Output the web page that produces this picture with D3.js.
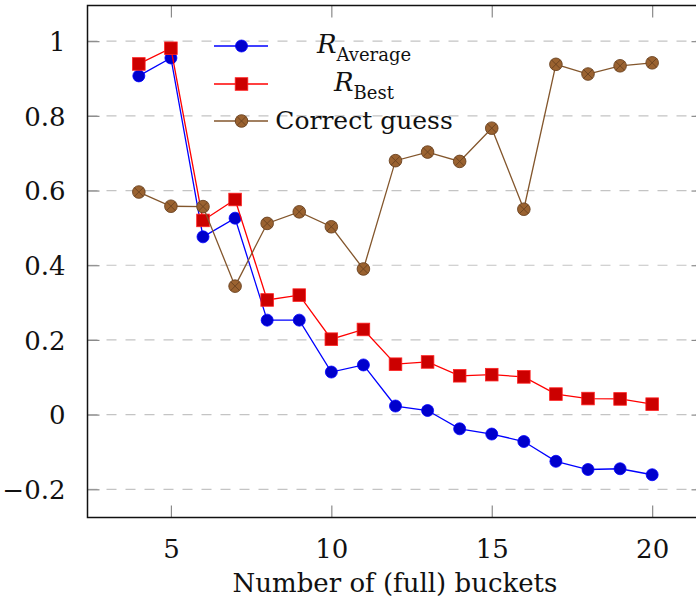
<!DOCTYPE html>
<html>
<head>
<meta charset="utf-8">
<script src="https://cdn.jsdelivr.net/npm/d3@7"></script>
<style>
  html, body { margin: 0; padding: 0; background: #fff; }
  svg { display: block; }
  text { font-family: "DejaVu Serif", serif; fill: #111; }
</style>
</head>
<body>
<svg id="chart" width="696" height="601"></svg>
<script>
// Bucket counts on the x axis
const buckets = [4, 5, 6, 7, 8, 9, 10, 11, 12, 13, 14, 15, 16, 17, 18, 19, 20];

// Series values, one per bucket count
const rAverage = [0.907, 0.955, 0.476, 0.526, 0.253, 0.253, 0.114, 0.133, 0.023, 0.011, -0.038, -0.052, -0.072, -0.125, -0.147, -0.145, -0.161];
const rBest    = [0.939, 0.981, 0.520, 0.576, 0.307, 0.320, 0.202, 0.228, 0.135, 0.141, 0.104, 0.107, 0.101, 0.055, 0.043, 0.042, 0.028];
const correctGuess = [0.596, 0.558, 0.557, 0.344, 0.512, 0.543, 0.503, 0.390, 0.680, 0.703, 0.678, 0.767, 0.550, 0.938, 0.912, 0.934, 0.942];

// Tick values
const xTicks = [5, 10, 15, 20];
const yTicks = [-0.2, 0, 0.2, 0.4, 0.6, 0.8, 1];

const xLabel = "Number of (full) buckets";

const svg = d3.select("#chart");
const plotLeft = 87.5, plotRight = 703.5, plotTop = 5.5, plotBottom = 517.5;

const x = d3.scaleLinear().domain([2.4, 21.6]).range([plotLeft, plotRight]);
const y = d3.scaleLinear().domain([-0.2755, 1.0955]).range([plotBottom, plotTop]);

const fmt = v => v < 0 ? "\u2212" + Math.abs(v) : String(v);

// Dashed horizontal grid
svg.append("g")
  .selectAll("line")
  .data(yTicks)
  .join("line")
  .attr("x1", plotLeft).attr("x2", plotRight)
  .attr("y1", d => y(d)).attr("y2", d => y(d))
  .attr("stroke", "#c4c4c4")
  .attr("stroke-width", 1.2)
  .attr("stroke-dasharray", "10 9");

// Axes with inward ticks
const tickLen = 12;
const yAxis = svg.append("g").attr("transform", `translate(${plotLeft},0)`)
  .call(d3.axisLeft(y).tickValues(yTicks).tickFormat(fmt).tickSize(-tickLen).tickPadding(tickLen + 10));
const yAxisR = svg.append("g").attr("transform", `translate(${plotRight},0)`)
  .call(d3.axisRight(y).tickValues(yTicks).tickFormat("").tickSize(-tickLen));
const xAxis = svg.append("g").attr("transform", `translate(0,${plotBottom})`)
  .call(d3.axisBottom(x).tickValues(xTicks).tickFormat(d3.format("d")).tickSize(-tickLen).tickPadding(tickLen + 10));
const xAxisT = svg.append("g").attr("transform", `translate(0,${plotTop})`)
  .call(d3.axisTop(x).tickValues(xTicks).tickFormat("").tickSize(-tickLen));

[yAxis, yAxisR, xAxis, xAxisT].forEach(g => {
  g.select(".domain").remove();
  g.selectAll(".tick line").attr("stroke", "#8a8a8a").attr("stroke-width", 1.2);
  g.selectAll(".tick text")
    .attr("font-family", "DejaVu Serif, serif")
    .attr("font-size", 26)
    .attr("fill", "#111");
});
yAxis.selectAll(".tick text").attr("dy", "0.36em");
xAxis.selectAll(".tick text").attr("dy", "0.72em");

// Frame
svg.append("rect")
  .attr("x", plotLeft).attr("y", plotTop)
  .attr("width", plotRight - plotLeft).attr("height", plotBottom - plotTop)
  .attr("fill", "none").attr("stroke", "#111").attr("stroke-width", 1.5);

// Axis label
svg.append("text")
  .attr("x", 395).attr("y", 592)
  .attr("text-anchor", "middle")
  .attr("font-size", 26)
  .text(xLabel);

// Marker drawing helpers
function circleMark(g, cx, cy, s) {
  g.append("circle").attr("cx", cx).attr("cy", cy).attr("r", 6)
    .attr("fill", s.fill).attr("stroke", s.stroke).attr("stroke-width", 0.8);
}
function squareMark(g, cx, cy, s) {
  g.append("rect").attr("x", cx - 6.3).attr("y", cy - 6.3).attr("width", 12.6).attr("height", 12.6)
    .attr("fill", s.fill).attr("stroke", s.stroke).attr("stroke-width", 0.8);
}
function otimesMark(g, cx, cy, s) {
  const r = 6.3;
  g.append("circle").attr("cx", cx).attr("cy", cy).attr("r", r)
    .attr("fill", s.fill).attr("stroke", s.stroke).attr("stroke-width", 0.9);
  const k = r * Math.SQRT1_2;
  g.append("path")
    .attr("d", `M${cx - k},${cy - k}L${cx + k},${cy + k}M${cx - k},${cy + k}L${cx + k},${cy - k}`)
    .attr("stroke", s.stroke).attr("stroke-width", 0.9);
}

const series = [
  { name: "avg",   values: rAverage,     line: "#0000ff", fill: "#0000cc", stroke: "#0000ff", mark: circleMark },
  { name: "best",  values: rBest,        line: "#ff0000", fill: "#cc0000", stroke: "#ff2020", mark: squareMark },
  { name: "guess", values: correctGuess, line: "#83562c", fill: "#9a6230", stroke: "#6a4220", mark: otimesMark }
];

const lineGen = d3.line().x(d => x(d[0])).y(d => y(d[1]));

series.forEach(s => {
  const pts = buckets.map((b, i) => [b, s.values[i]]);
  const g = svg.append("g").attr("class", "series-" + s.name);
  g.append("path").attr("d", lineGen(pts))
    .attr("fill", "none").attr("stroke", s.line).attr("stroke-width", 1.3);
  pts.forEach(p => s.mark(g, x(p[0]), y(p[1]), s));
});

// Legend
const legendRows = [46, 84, 121];
const lx1 = 214, lx2 = 268, lmx = 241.5, textCx = 364;
const lg = svg.append("g").attr("class", "legend");
series.forEach((s, i) => {
  const ly = legendRows[i];
  lg.append("line").attr("x1", lx1).attr("x2", lx2).attr("y1", ly).attr("y2", ly)
    .attr("stroke", s.line).attr("stroke-width", 1.3);
  s.mark(lg, lmx, ly, s);
});

function rLabel(yBase, sub) {
  const t = lg.append("text").attr("x", textCx).attr("y", yBase)
    .attr("text-anchor", "middle").attr("font-size", 26);
  t.append("tspan").attr("font-style", "italic").text("R");
  t.append("tspan").attr("font-size", 18).attr("dy", 8).text(sub);
}
rLabel(53, "Average");
rLabel(91, "Best");
lg.append("text").attr("x", textCx).attr("y", 129)
  .attr("text-anchor", "middle").attr("font-size", 25)
  .text("Correct guess");
</script>
</body>
</html>
